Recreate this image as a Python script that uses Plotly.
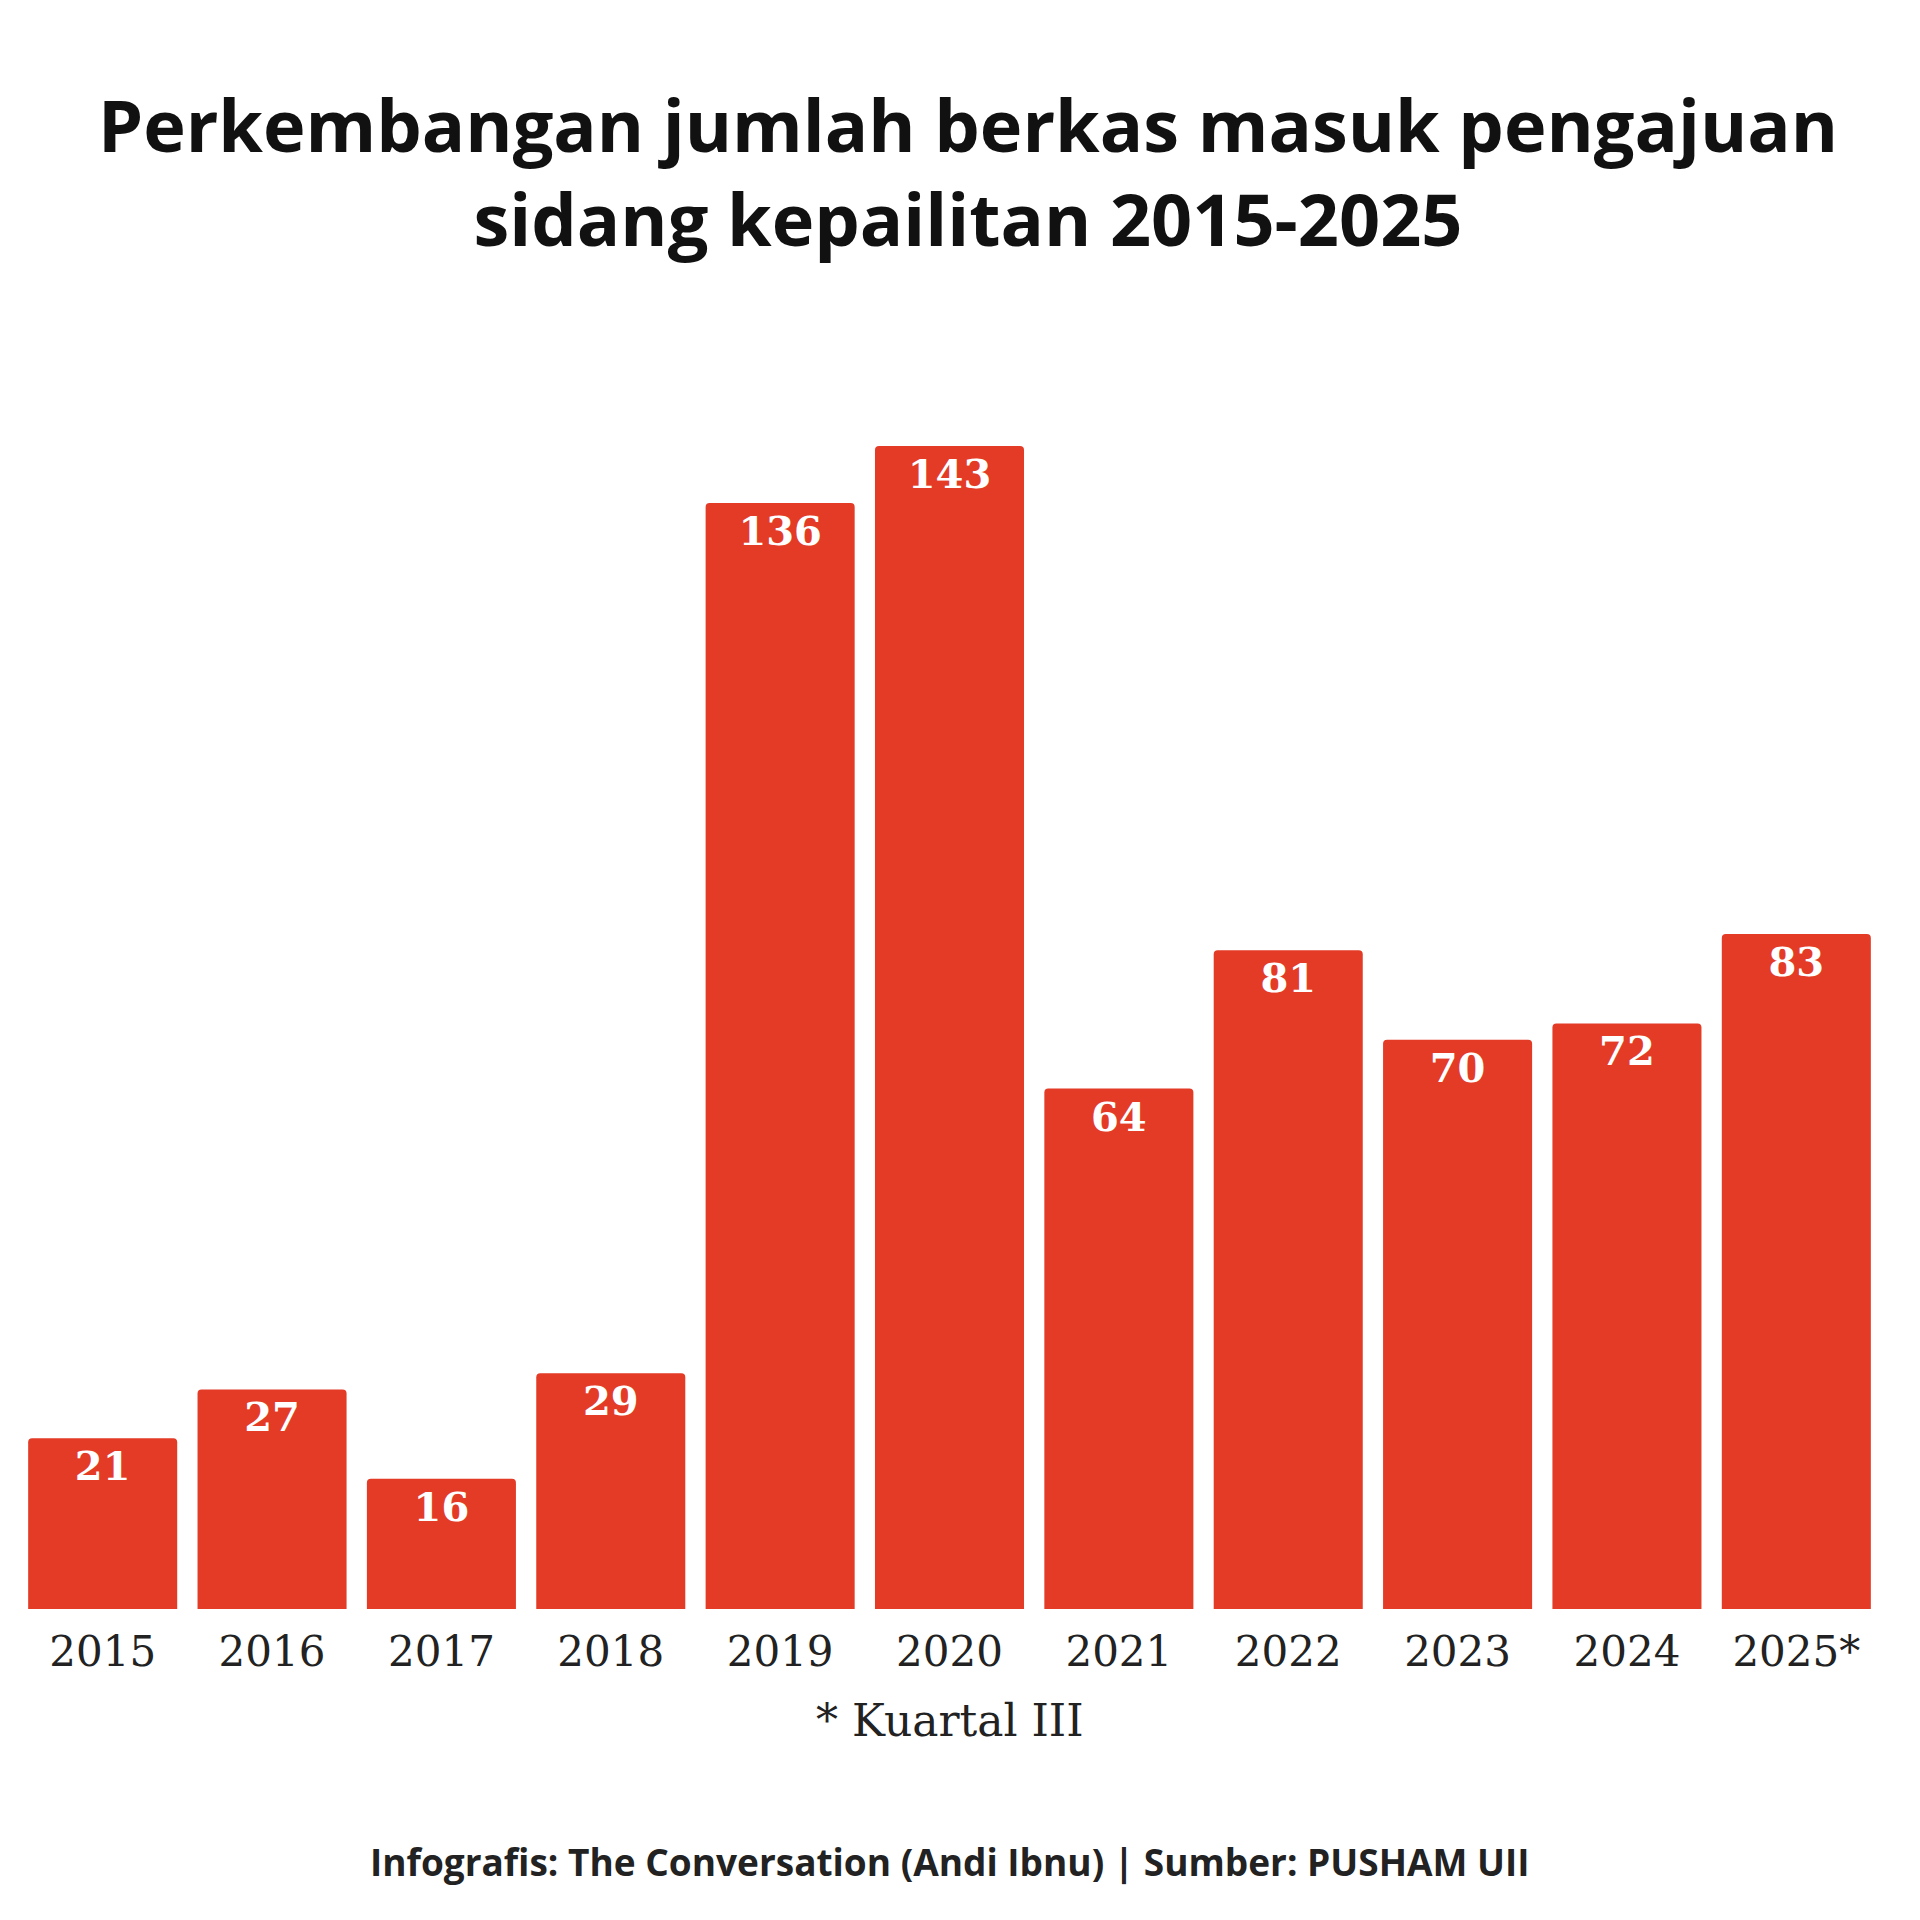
import plotly.graph_objects as go

years = ["2015","2016","2017","2018","2019","2020","2021","2022","2023","2024","2025*"]
counts = [21, 27, 16, 29, 136, 143, 64, 81, 70, 72, 83]

fig = go.Figure(go.Bar(
    x=years, y=counts, text=[str(v) for v in counts],
    textposition="inside", insidetextanchor="end", constraintext="none",
    textfont=dict(family="DejaVu Serif", size=40, color="white", weight="bold"),
    marker=dict(color="#E33B26", cornerradius=4, line=dict(width=0)),
    cliponaxis=False,
))
fig.update_layout(
    width=1920, height=1920, paper_bgcolor="white", plot_bgcolor="white",
    margin=dict(l=10, r=47, t=438, b=319),
    bargap=0.12, showlegend=False,
    title=dict(text="Perkembangan jumlah berkas masuk pengajuan<br>sidang kepailitan 2015-2025",
               x=0.5, xanchor="center", y=0.925, yanchor="middle",
               font=dict(family="Open Sans", size=72, color="#111", weight="bold")),
    xaxis=dict(showgrid=False, showline=False, ticks="", ticklabelstandoff=14,
               tickfont=dict(family="DejaVu Serif", size=42, color="#222")),
    yaxis=dict(range=[0, 143], visible=False, showgrid=False),
    annotations=[
        dict(text="* Kuartal III", x=0.5, y=-0.096, yanchor="middle", xref="paper", yref="paper", showarrow=False,
             font=dict(family="DejaVu Serif", size=44, color="#222")),
        dict(text="<b>Infografis: The Conversation (Andi Ibnu) | Sumber: PUSHAM UII</b>", x=0.5, y=-0.2175,
             yanchor="middle", xref="paper", yref="paper", showarrow=False,
             font=dict(family="Open Sans", size=37, color="#222")),
    ],
)
fig.write_html("out.html")
